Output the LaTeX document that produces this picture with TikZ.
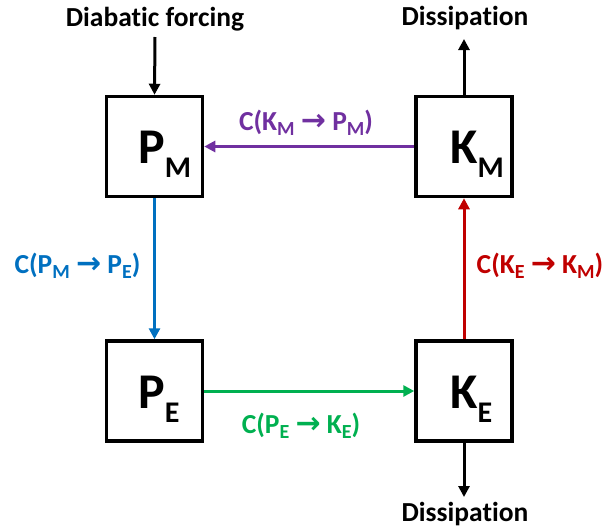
\documentclass[tikz,border=0pt]{standalone}
\usepackage{fontspec}
\setmainfont[Ligatures={NoCommon,NoRequired},Contextuals=NoAlternate]{Carlito}
\newfontfamily\arrfont{DejaVu Sans}
\usetikzlibrary{arrows.meta}
\definecolor{cpurple}{RGB}{112,48,160}
\definecolor{cblue}{RGB}{0,112,192}
\definecolor{cred}{RGB}{192,0,0}
\definecolor{cgreen}{RGB}{0,176,80}
\newcommand{\lsub}[1]{\raisebox{-5pt}{\fontsize{20}{20}\selectfont #1}}
\newcommand{\bsub}[1]{\raisebox{-14pt}{\fontsize{30}{30}\selectfont #1}}
\newcommand{\larr}{{\arrfont\bfseries\fontsize{30}{30}\selectfont →}}
\tikzset{
  box/.style={draw=black, line width=3.5pt, minimum width=96pt, minimum height=100pt, inner sep=0pt},
  bigtxt/.style={font=\bfseries\fontsize{50}{50}\selectfont, inner sep=0pt, anchor=base west},
  lbl/.style={font=\bfseries\fontsize{27.5}{27.5}\selectfont, inner sep=0pt, anchor=base},
  conn/.style={line width=3pt, -{Triangle[length=11pt,width=11pt]}},
}
\begin{document}
\begin{tikzpicture}[x=1pt,y=-1pt]
\useasboundingbox (0,0) rectangle (608,528);
% boxes
\node[box] (pm) at (154.5,146.5) {};
\node[box] (km) at (464,146.5) {};
\node[box] (pe) at (154.5,391) {};
\node[box] (ke) at (464,391) {};
% box texts
\node[bigtxt] (pmt) at (138,163) {P\bsub{M}};
\node[bigtxt] (kmt) at (450,163) {K\bsub{M}};
\node[bigtxt] (pet) at (138,408) {P\bsub{E}};
\node[bigtxt] (ket) at (450,408) {K\bsub{E}};
% external labels
\node[lbl] (df) at (155,26) {Diabatic forcing};
\node[lbl] (d1) at (465,25) {Dissipation};
\node[lbl] (d2) at (465,521) {Dissipation};
\coordinate (dfe) at (155,37);
\coordinate (d1e) at (464,39);
\coordinate (d2e) at (464,497);
% conversion labels
\node[lbl, text=cpurple] (l1) at (306,130) {C(K\lsub{M} \larr{} P\lsub{M})};
\node[lbl, text=cblue] (l2) at (77.5,273) {C(P\lsub{M} \larr{} P\lsub{E})};
\node[lbl, text=cred] (l3) at (540,273) {C(K\lsub{E} \larr{} K\lsub{M})};
\node[lbl, text=cgreen] (l4) at (301,433) {C(P\lsub{E} \larr{} K\lsub{E})};
% connectors
\draw[conn] (dfe) -- (pm.north);
\draw[conn] (km.north) -- (d1e);
\draw[conn] (ke.south) -- (d2e);
\draw[conn, cpurple] (km) -- (pm);
\draw[conn, cblue] (pm) -- (pe);
\draw[conn, cred] (ke) -- (km);
\draw[conn, cgreen] (pe) -- (ke);
\end{tikzpicture}
\end{document}
